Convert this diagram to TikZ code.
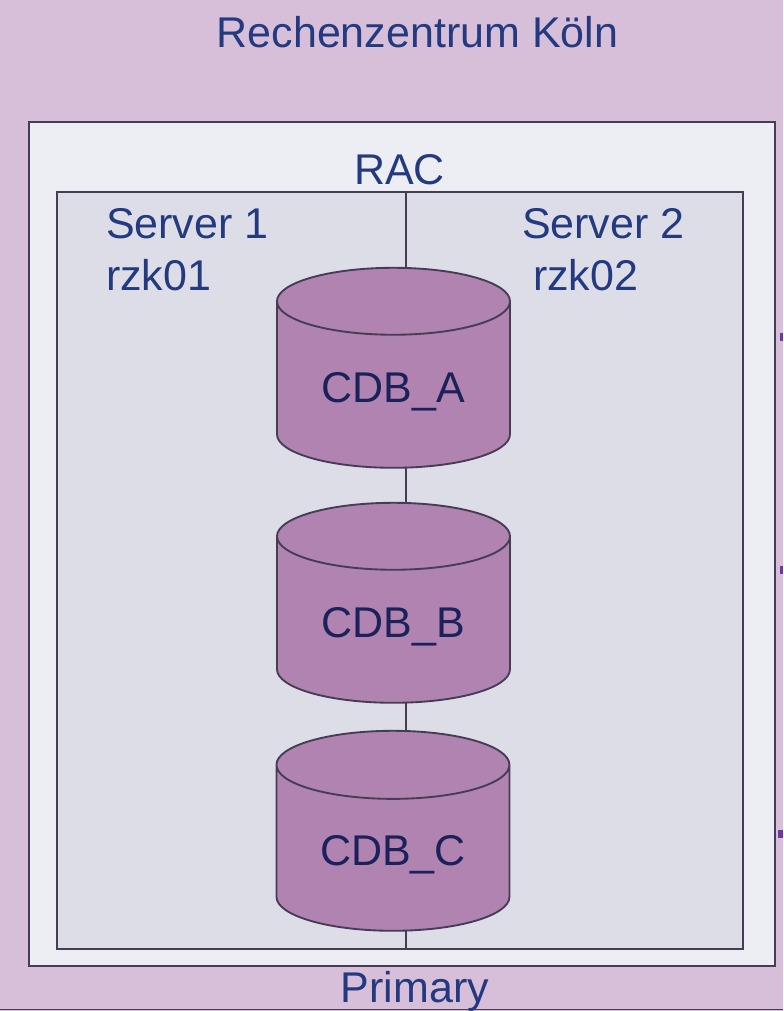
\documentclass[tikz,border=0pt]{standalone}
\usepackage{fontspec}
\setmainfont{Liberation Sans}
\usepackage{tikz}
\usetikzlibrary{shapes.geometric,positioning}
\definecolor{bgLilac}{HTML}{D7BFD9}
\definecolor{rackFill}{HTML}{EDEEF3}
\definecolor{serverFill}{HTML}{DDDDE8}
\definecolor{dbFill}{HTML}{B083B0}
\definecolor{lineDark}{HTML}{463C55}
\definecolor{textBlue}{HTML}{233A80}
\definecolor{dbText}{HTML}{1B2159}
\definecolor{tickPurple}{HTML}{6C3A9E}

\begin{document}
\begin{tikzpicture}[
  x=0.75pt, y=-0.75pt,
  every node/.style={text=textBlue, font=\fontsize{32.25}{38}\selectfont, inner sep=0pt, outer sep=0pt},
  box/.style={draw=lineDark, line width=1.5pt},
  link/.style={draw=lineDark, line width=1.4pt},
  tick/.style={fill=tickPurple},
  db/.style={cylinder, shape border rotate=90, aspect=0.467, draw=lineDark, line width=1.4pt,
    fill=dbFill, text=dbText, text height=31pt, text depth=5pt, minimum width=174.75pt, minimum height=150pt}
]
\useasboundingbox (0,0) rectangle (783,1011);

% ---- background ----
\fill[bgLilac] (0,0) rectangle (783,1011);
\draw[link] (0,1009.5) -- (783,1009.5);
\fill[tick] (780,333) rectangle (783,341);
\fill[tick] (780,566) rectangle (783,574);
\fill[tick] (778,830) rectangle (783,838);

% ---- boxes ----
\node (rack) [box, fill=rackFill, minimum width=559.5pt, minimum height=633pt, anchor=north west] at (29,122) {};
\node (server) [box, fill=serverFill, minimum width=514.5pt, minimum height=567.75pt, anchor=north west] at (57,192) {};

% ---- server split ----
\coordinate (splitT) at (406,192);
\coordinate (splitB) at (406,949);
\draw[link] (splitT) -- (splitB);

% ---- databases ----
\node (cdbA) [db] at (393.5,385) {CDB\_A};
\node (cdbB) [db, below=26.25pt of cdbA] {CDB\_B};
\node (cdbC) [db, below=21pt of cdbB, xshift=-0.4pt] {CDB\_C};

% ---- labels ----
\node (title) at (417.5,32) {Rechenzentrum Köln};
\node (rac) at (399.5,169.5) {RAC};
\node (s1) [anchor=west] at (106,224) {Server 1};
\node (h1) [anchor=west] at (106,275) {rzk01};
\node (s2) [anchor=west] at (522,224) {Server 2};
\node (h2) [anchor=west] at (533,275) {rzk02};
\node (primary) at (415,991.5) {Primary};

\end{tikzpicture}
\end{document}
